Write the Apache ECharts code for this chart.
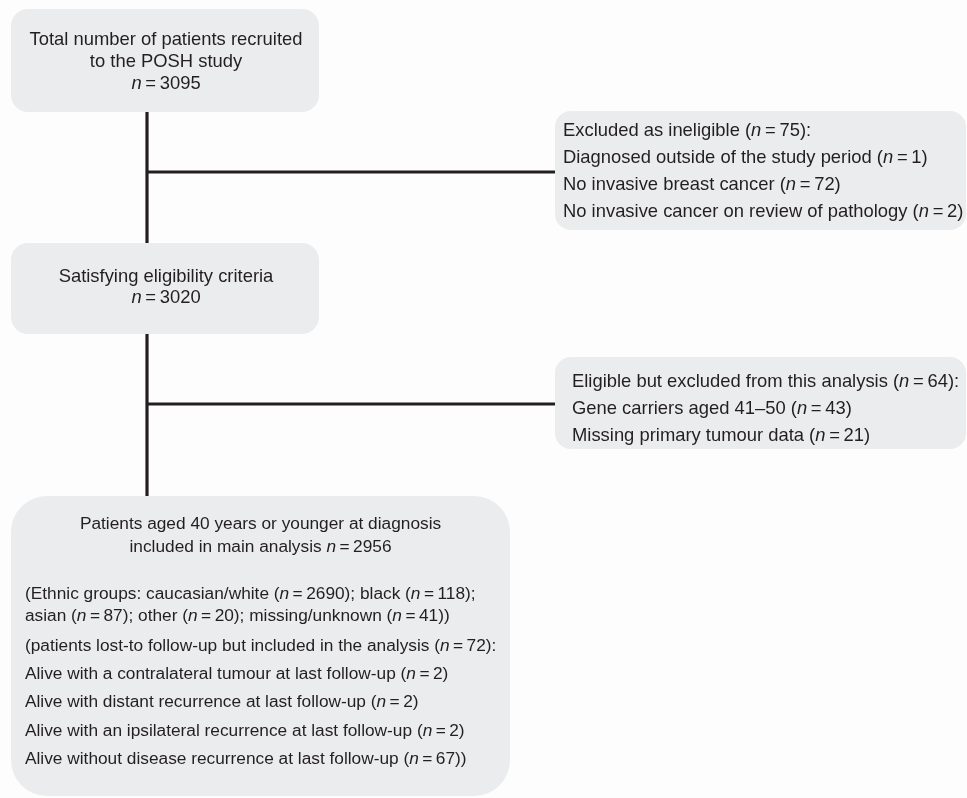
<!DOCTYPE html>
<html>
<head>
<meta charset="utf-8">
<script src="https://cdn.jsdelivr.net/npm/echarts@6/dist/echarts.min.js"></script>
<style>
html,body{margin:0;padding:0;background:#fdfdfd;}
#chart{width:967px;height:798px;}
</style>
</head>
<body>
<div id="chart"></div>
<script>
// ---- data ----
const stageLabels = [
  ['Total number of patients recruited', 'to the POSH study'],
  ['Satisfying eligibility criteria'],
  ['Patients aged 40 years or younger at diagnosis', 'included in main analysis']
];
const stageCounts = [3095, 3020, 2956];

const excl1Title = 'Excluded as ineligible';
const excl1Count = 75;
const excl1Reasons = ['Diagnosed outside of the study period', 'No invasive breast cancer', 'No invasive cancer on review of pathology'];
const excl1Counts = [1, 72, 2];

const excl2Title = 'Eligible but excluded from this analysis';
const excl2Count = 64;
const excl2Reasons = ['Gene carriers aged 41\u201350', 'Missing primary tumour data'];
const excl2Counts = [43, 21];

const ethnicGroups = ['caucasian/white', 'black', 'asian', 'other', 'missing/unknown'];
const ethnicCounts = [2690, 118, 87, 20, 41];

const lostTitle = 'patients lost-to follow-up but included in the analysis';
const lostCount = 72;
const lostReasons = ['Alive with a contralateral tumour at last follow-up', 'Alive with distant recurrence at last follow-up', 'Alive with an ipsilateral recurrence at last follow-up', 'Alive without disease recurrence at last follow-up'];
const lostCounts = [2, 2, 2, 67];

// ---- layout ----
const FONT = '"Liberation Sans", Arial, Helvetica, sans-serif';
const TXT = '#231f20';
const BOX = '#ebeced';
const LINE = '#231f20';

function makeRich(fs) {
  return {
    r: { fontFamily: FONT, fontSize: fs, fill: TXT, color: TXT },
    i: { fontFamily: FONT, fontSize: fs, fontStyle: 'italic', fill: TXT, color: TXT }
  };
}
const richTop = makeRich(18.4);
const richLow = makeRich(17.3);

function nEq(v) { return '{i|n}{r|\u2009=\u2009' + v + '}'; }
function rt(s) { return '{r|' + s + '}'; }

const elements = [];
function box(x, y, w, h, r) {
  elements.push({ type: 'rect', shape: { x: x, y: y, width: w, height: h, r: r }, style: { fill: BOX }, z: 1 });
}
function line(x1, y1, x2, y2) {
  elements.push({ type: 'line', shape: { x1: x1, y1: y1, x2: x2, y2: y2 }, style: { stroke: LINE, lineWidth: 3.2 }, z: 2 });
}
function text(str, x, y, align, rich) {
  elements.push({ type: 'text', x: x, y: y, z: 3,
    style: { text: str, rich: rich || richTop, align: align || 'left', verticalAlign: 'middle', fontFamily: FONT, fill: TXT } });
}

// boxes
const mainX = 11, mainW = 308, stemX = 147;
const sideX = 555, sideW = 411;
const lowW = 499;
box(mainX, 9, mainW, 103, 17);
box(sideX, 111, sideW, 119, 16);
box(mainX, 243, mainW, 91, 17);
box(sideX, 357, sideW, 92, 16);
box(mainX, 496, lowW, 300, 36);

// connectors
line(stemX, 112, stemX, 243);
line(stemX, 172, sideX, 172);
line(stemX, 334, stemX, 496);
line(stemX, 404, sideX, 404);

// stage 1
const c1 = mainX + mainW / 2 + 1;
text(rt(stageLabels[0][0]), c1, 40, 'center');
text(rt(stageLabels[0][1]), c1, 62, 'center');
text(nEq(stageCounts[0]), c1, 84, 'center');

// exclusion 1
text(rt(excl1Title + ' (') + nEq(excl1Count) + rt('):'), 563, 131);
excl1Reasons.forEach(function (s, k) {
  text(rt(s + ' (') + nEq(excl1Counts[k]) + rt(')'), 563, 158 + k * 27);
});

// stage 2
text(rt(stageLabels[1][0]), c1, 277, 'center');
text(nEq(stageCounts[1]), c1, 298, 'center');

// exclusion 2
text(rt(excl2Title + ' (') + nEq(excl2Count) + rt('):'), 572, 382);
excl2Reasons.forEach(function (s, k) {
  text(rt(s + ' (') + nEq(excl2Counts[k]) + rt(')'), 572, 409 + k * 27);
});

// stage 3
const c3 = mainX + lowW / 2;
text(rt(stageLabels[2][0]), c3, 524, 'center', richLow);
text(rt(stageLabels[2][1] + ' ') + nEq(stageCounts[2]), c3, 547, 'center', richLow);

// ethnic groups
let eth1 = rt('(Ethnic groups: ');
for (let k = 0; k < 2; k++) {
  eth1 += rt(ethnicGroups[k] + ' (') + nEq(ethnicCounts[k]) + rt(');' + (k < 1 ? ' ' : ''));
}
let eth2 = '';
for (let k = 2; k < ethnicGroups.length; k++) {
  eth2 += rt(ethnicGroups[k] + ' (') + nEq(ethnicCounts[k]) + rt(k < ethnicGroups.length - 1 ? '); ' : '))');
}
text(eth1, 25, 594, 'left', richLow);
text(eth2, 25, 616, 'left', richLow);
text(rt('(' + lostTitle + ' (') + nEq(lostCount) + rt('):'), 25, 646, 'left', richLow);
lostReasons.forEach(function (s, k) {
  text(rt(s + ' (') + nEq(lostCounts[k]) + rt(k === lostReasons.length - 1 ? '))' : ')'), 25, 674 + k * 28.5, 'left', richLow);
});

const chart = echarts.init(document.getElementById('chart'));
chart.setOption({
  backgroundColor: '#fdfdfd',
  animation: false,
  graphic: { elements: elements }
});
</script>
</body>
</html>
